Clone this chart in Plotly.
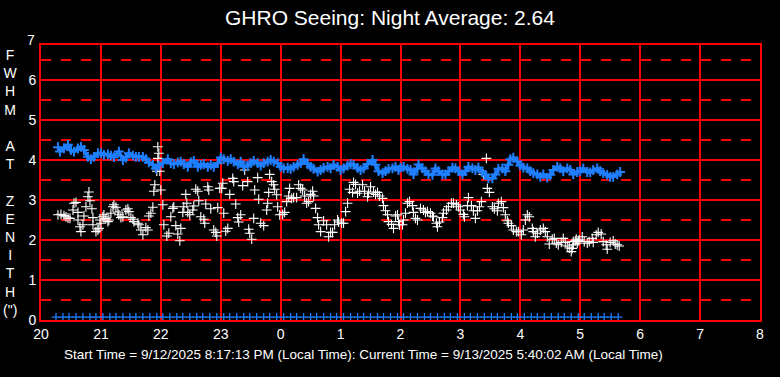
import plotly.graph_objects as go

# ---------------- data (times = minutes after 20:00 local) ----------------
title_text = "GHRO Seeing: Night Average: 2.64"
footer_text = ("Start Time = 9/12/2025 8:17:13 PM (Local Time): "
               "Current Time = 9/13/2025 5:40:02 AM (Local Time)")
x_tick_hours = [20, 21, 22, 23, 24, 25, 26, 27, 28, 29, 30, 31, 32]
x_tick_labels = ["20", "21", "22", "23", "0", "1", "2", "3", "4", "5", "6", "7", "8"]
y_tick_vals = [0, 1, 2, 3, 4, 5, 6]
y_half_vals = [0.5, 1.5, 2.5, 3.5, 4.5, 5.5, 6.5]
y_top_label = 7
y_title_letters = ["F", "W", "H", "M", " ", "A", "T", " ", "Z", "E", "N", "I", "T", "H", "(\")"]

# blue series (FWHM corrected to zenith)
blue_min = [17, 19, 23, 27, 30, 33, 37, 40, 43, 47,
            50, 53, 57, 60, 63, 67, 70, 73, 78, 82,
            85, 88, 92, 95, 98, 102, 105, 108, 112, 115,
            118, 122, 127, 130, 133, 137, 140, 143, 147, 150,
            153, 157, 160, 163, 167, 170, 173, 177,
            180, 183, 187, 190, 193, 197, 200, 203, 207, 210,
            213, 217, 220, 223, 227, 230, 233, 237, 240, 243,
            247, 250, 253, 257, 260, 263, 267, 270, 273, 277,
            280, 283, 287, 290, 293, 297, 300, 303, 307, 310,
            313, 317, 320, 323, 327, 332, 335, 338, 342, 345,
            348, 352, 355, 358,
            360, 363, 367, 370, 373, 377, 378, 382, 385, 388,
            392, 395, 398, 402, 405, 408, 412, 415, 418, 422,
            425, 428, 432, 435, 438, 442, 445, 448, 452, 455,
            458, 462, 465, 468, 470, 473, 477, 480, 483, 487,
            490, 493, 497, 500, 503, 507, 510, 513, 517, 520,
            523, 527, 530, 533, 537,
            540, 543, 547, 550, 553, 557, 560, 563, 567, 570,
            573, 577, 580]
blue_fwhm = [4.32, 4.21, 4.29, 4.38, 4.25, 4.21, 4.29, 4.33, 4.25, 4.08,
             4.02, 4.08, 4.17, 4.17, 4.13, 4.14, 4.11, 4.07, 4.21, 4.00,
             4.06, 4.17, 4.11, 4.08, 4.08, 4.08, 4.02, 3.94, 3.88, 3.79,
             3.86, 3.92, 4.02, 3.92, 3.90, 3.94, 3.96, 3.90, 3.83, 3.94,
             3.98, 3.83, 3.88, 3.90, 3.83, 3.88, 3.83, 3.92,
             4.06, 4.02, 3.98, 4.02, 3.96, 3.89, 3.96, 3.83, 3.86, 3.92,
             3.98, 3.92, 3.86, 3.92, 3.96, 4.00, 3.96, 3.92, 3.83, 3.79,
             3.80, 3.78, 3.83, 3.88, 3.92, 4.02, 3.90, 3.83, 3.78, 3.71,
             3.75, 3.80, 3.83, 3.79, 3.88, 3.83, 3.75, 3.79, 3.86, 3.90,
             3.88, 3.80, 3.75, 3.79, 3.90, 4.00, 3.88, 3.72, 3.67, 3.72,
             3.78, 3.79, 3.83, 3.75,
             3.81, 3.83, 3.78, 3.75, 3.64, 3.79, 3.89, 3.79, 3.72, 3.64,
             3.63, 3.79, 3.72, 3.64, 3.64, 3.72, 3.81, 3.79, 3.72, 3.64,
             3.72, 3.83, 3.79, 3.75, 3.81, 3.70, 3.63, 3.54, 3.54, 3.64,
             3.78, 3.79, 3.72, 3.88, 4.02, 4.06, 3.96, 3.86, 3.81, 3.79,
             3.72, 3.67, 3.64, 3.58, 3.64, 3.56, 3.63, 3.75, 3.83, 3.79,
             3.72, 3.79, 3.75, 3.64, 3.70,
             3.72, 3.79, 3.70, 3.69, 3.75, 3.79, 3.72, 3.67, 3.63, 3.58,
             3.58, 3.64, 3.70]

# white series (measured FWHM)
white_min = [17, 20, 23, 25, 27, 29, 32, 33, 35, 37,
             37, 39, 40, 42, 43, 45, 47, 48, 49, 51,
             52, 52, 55, 57, 58, 59, 60, 62, 63, 65,
             67, 68, 70, 72, 73, 75, 77, 78, 80, 82,
             85, 87, 88, 90, 92, 93, 97, 98, 100, 102,
             105, 107, 108, 110, 112, 113, 114, 120, 117, 118,
             117, 116, 119, 122, 123, 126, 128, 130, 132, 133,
             135, 137, 139, 140, 142, 143, 145, 146, 147, 149,
             152, 153, 155, 157, 158, 160, 163, 164, 165, 167,
             168, 170, 173, 175, 176, 177, 179,
             181, 182, 183, 185, 187, 189, 192, 193, 195, 197,
             198, 200, 202, 204, 207, 208, 209, 211, 213, 214,
             217, 218, 220, 223, 226, 227, 228, 229, 231, 233,
             234, 236, 237, 239, 242, 244, 246, 248, 249, 251,
             253, 256, 258, 260, 262, 264, 266, 268, 270, 272,
             273, 275, 277, 278, 280, 283, 286, 288, 290, 292,
             294, 297, 298, 301, 303, 305, 307, 309, 312, 313,
             315, 317, 319, 322, 324, 327, 328, 330, 333, 335,
             337, 339, 342, 343, 345, 347, 348, 351, 353, 355,
             357, 358, 359,
             362, 363, 365, 367, 369, 372, 373, 375, 377, 380,
             383, 385, 387, 390, 392, 393, 396, 397, 399, 402,
             403, 406, 408, 411, 413, 416, 418, 420, 423, 424,
             427, 428, 431, 433, 435, 437, 439, 441, 443, 446,
             447, 449, 452, 454, 457, 458, 461, 463, 465, 467,
             468, 471, 473, 476, 478, 481, 483, 485, 487, 489,
             492, 493, 495, 497, 500, 503, 505, 507, 509, 512,
             514, 516, 518, 521, 523, 525, 527, 529, 531, 533,
             535, 537, 539,
             532, 533, 536, 538, 542, 544, 547, 549, 552, 553,
             556, 558, 561, 563, 566, 567, 570, 573, 575, 577,
             579]
white_fwhm = [2.63, 2.64, 2.61, 2.58, 2.55, 2.54, 2.75, 2.92, 2.94, 2.69,
              2.50, 2.33, 2.21, 2.38, 2.60, 2.83, 3.08, 3.20, 2.98, 2.78,
              2.56, 2.38, 2.21, 2.25, 2.29, 2.50, 2.42, 2.58, 2.63, 2.54,
              2.46, 2.50, 2.67, 2.83, 2.88, 2.82, 2.70, 2.63, 2.56, 2.58,
              2.75, 2.78, 2.71, 2.56, 2.52, 2.46, 2.42, 2.38, 2.25, 2.13,
              2.31, 2.25, 2.60, 2.67, 2.82, 3.22, 3.38, 3.25, 4.33, 4.17,
              4.04, 3.72, 3.72, 2.88, 2.38, 2.10, 2.17, 2.58, 2.79, 2.83,
              2.36, 2.15, 1.98, 2.29, 2.69, 2.83, 3.14, 2.92, 2.69, 2.63,
              2.75, 2.85, 3.27, 3.22, 2.98, 2.58, 2.52, 2.42, 2.90, 3.33,
              3.25, 2.78, 2.25, 2.19, 2.10, 2.81, 3.29,
              3.29, 3.42, 2.67, 2.22, 2.29, 3.14, 3.54, 3.46, 2.90, 2.56,
              2.45, 2.63, 3.36, 3.75, 3.46, 2.27, 2.17, 2.02, 2.54, 3.25,
              3.56, 3.02, 2.42, 2.36, 2.75, 2.92, 3.19, 3.64, 3.46, 3.38,
              3.27, 3.13, 2.83, 2.63, 2.64, 2.69, 2.96, 3.10, 3.29, 3.04,
              3.06, 3.06, 3.38, 3.29, 3.25, 3.10, 2.92, 2.96, 3.14, 3.22,
              3.10, 2.79, 2.56, 2.38, 2.21, 2.48, 2.38, 2.08, 2.19, 2.19,
              2.38, 2.50, 2.45, 2.42, 2.42, 2.71, 2.92, 3.27, 3.19, 3.44,
              3.39, 3.17, 3.22, 3.38, 3.22, 3.08, 3.17, 3.33, 3.20, 3.14,
              3.19, 3.10, 3.04, 2.86, 2.73, 2.63, 2.46, 2.39, 2.29, 2.60,
              2.63, 2.46, 2.38,
              2.38, 2.50, 2.67, 2.92, 2.96, 2.86, 2.69, 2.54, 2.50, 2.79,
              2.75, 2.69, 2.71, 2.67, 2.60, 2.58, 2.42, 2.33, 2.45, 2.56,
              2.67, 2.75, 2.83, 2.92, 2.92, 2.88, 2.83, 2.75, 2.64, 2.58,
              2.86, 3.06, 2.86, 2.73, 2.54, 2.73, 2.83, 2.96, 3.64, 4.04,
              3.29, 3.19, 2.83, 2.78, 2.73, 2.92, 2.96, 2.81, 2.63, 2.48,
              2.42, 2.36, 2.25, 2.21, 2.21, 2.13, 2.25, 2.50, 2.63, 2.58,
              2.29, 2.21, 2.08, 2.17, 2.25, 2.29, 2.21, 2.08, 1.90, 2.02,
              2.04, 1.92, 1.88, 1.94, 2.04, 1.94, 1.85, 1.80, 1.71, 1.88,
              1.98, 1.92, 2.00,
              1.79, 1.96, 2.02, 1.98, 2.08, 1.96, 1.92, 1.96, 2.04, 1.94,
              2.13, 2.19, 2.15, 1.96, 1.88, 1.77, 1.94, 1.98, 1.90, 1.88,
              1.85]

# blue markers along the bottom (sample instants)
base_min = [15, 22, 28, 35, 42, 49, 55, 62, 69, 75,
            82, 89, 95, 102, 109, 116, 122, 129, 136, 142,
            149, 156, 162, 169, 176, 183, 189, 196, 203, 209,
            216, 223, 229, 236, 243, 250, 256, 263, 270, 276,
            283, 290, 296, 303, 310, 317, 323, 330, 337, 343,
            350, 357, 363, 370, 377, 384, 390, 397, 404, 410,
            417, 424, 430, 437, 444, 451, 457, 464, 471, 477,
            484, 491, 497, 504, 511, 518, 524, 531, 538, 544,
            551, 558, 564, 571, 578]
base_level = 0.07

assert len(blue_min) == len(blue_fwhm)
assert len(white_min) == len(white_fwhm)


def to_hours(mins):
    return [20 + m / 60 for m in mins]


BLUE = "#1f7fff"
RED = "#ff0000"
FONT = "Liberation Sans, Arial, sans-serif"
Y_MAX = 6.875

fig = go.Figure()
fig.add_trace(go.Scatter(
    x=to_hours(white_min), y=white_fwhm, mode="markers",
    marker=dict(symbol="cross-thin", size=7, line=dict(color="white", width=1.1)),
    hoverinfo="skip"))
fig.add_trace(go.Scatter(
    x=to_hours(blue_min), y=blue_fwhm, mode="lines+markers",
    line=dict(color=BLUE, width=3.5),
    marker=dict(symbol="cross-thin", size=7, line=dict(color=BLUE, width=2)),
    hoverinfo="skip"))
fig.add_trace(go.Scatter(
    x=to_hours(base_min), y=[base_level] * len(base_min), mode="markers",
    marker=dict(symbol="cross-thin", size=6, line=dict(color=BLUE, width=1.3)),
    cliponaxis=False, hoverinfo="skip"))

fig.update_layout(
    width=780, height=377,
    margin=dict(l=41, r=20, t=45, b=57),
    paper_bgcolor="black", plot_bgcolor="black",
    showlegend=False,
    font=dict(family=FONT, color="white", size=14),
    title=dict(text=title_text, x=0.5, xanchor="center", y=1 - 18 / 377,
               yanchor="middle", font=dict(size=21, color="white", family=FONT)),
    xaxis=dict(range=[20, 32], tickmode="array", tickvals=x_tick_hours,
               ticktext=x_tick_labels, showgrid=True, gridcolor=RED, gridwidth=1.5,
               showline=True, linecolor=RED, linewidth=2, mirror=True,
               zeroline=False, ticks="", tickfont=dict(size=14, color="white")),
    yaxis=dict(range=[0, Y_MAX], tickmode="array", tickvals=y_tick_vals,
               ticktext=[str(v) for v in y_tick_vals],
               showgrid=True, gridcolor=RED, gridwidth=2,
               showline=True, linecolor=RED, linewidth=2, mirror=True,
               zeroline=False, ticks="", tickfont=dict(size=14, color="white"),
               minor=dict(tickmode="array", tickvals=y_half_vals, showgrid=True,
                          gridcolor=RED, gridwidth=2, griddash="10px,10px")),
    annotations=[
        dict(text=str(y_top_label), xref="paper", yref="paper", x=0,
             y=y_top_label / Y_MAX, xanchor="right",
             yanchor="middle", xshift=-4, showarrow=False,
             font=dict(size=14, color="white")),
        dict(text="<br>".join(y_title_letters), xref="paper", yref="paper",
             x=-31 / 719, y=0.5, xanchor="center", yanchor="middle",
             showarrow=False, align="center", font=dict(size=14, color="white")),
        dict(text=footer_text, xref="paper", yref="paper", x=21 / 719,
             y=-34 / 275, xanchor="left", yanchor="middle", showarrow=False,
             font=dict(size=13.5, color="white")),
    ],
)

fig.write_html("out.html", config={"displayModeBar": False},
               post_script="document.body.style.margin='0';")
